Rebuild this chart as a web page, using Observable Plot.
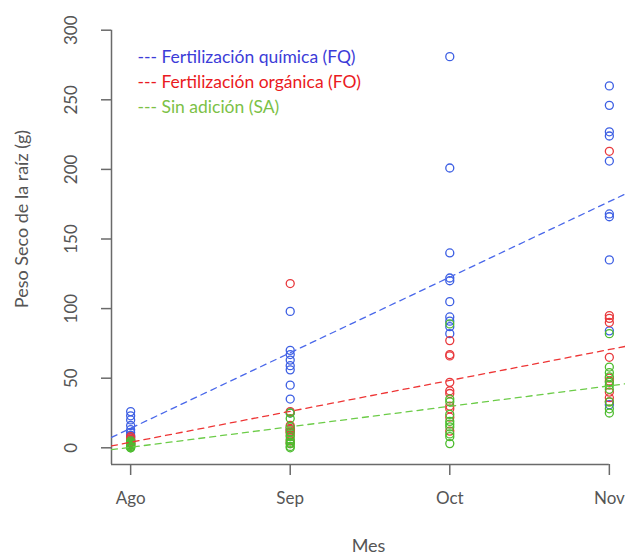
<!DOCTYPE html>
<html>
<head>
<meta charset="utf-8">
<script src="https://cdn.jsdelivr.net/npm/d3@7"></script>
<script src="https://cdn.jsdelivr.net/npm/@observablehq/plot@0.6"></script>
<style>
  html, body { margin: 0; padding: 0; background: #fff; }
  #chart svg { display: block; }
</style>
</head>
<body>
<div id="chart"></div>
<script>
// ---- data ----
const months = ["Ago", "Sep", "Oct", "Nov"];
const series = ["Fertilización química (FQ)", "Fertilización orgánica (FO)", "Sin adición (SA)"];
const seriesShort = ["FQ", "FO", "SA"];

// Peso seco de la raíz (g), per month (Ago, Sep, Oct, Nov)
const valuesFQ = [
  [26, 23, 20, 16, 13, 11, 9, 8, 6, 5],
  [98, 70, 67, 63, 59, 56, 45, 35, 25, 13],
  [281, 201, 140, 122, 120, 105, 94, 91, 87, 82],
  [260, 246, 227, 224, 206, 168, 166, 135, 84, 31]
];
const valuesFO = [
  [8, 7, 6, 5, 4, 4, 3, 3, 2, 2],
  [118, 26, 16, 14, 13, 12, 11, 9, 5, 3],
  [77, 67, 66, 47, 41, 39, 30, 28, 22, 12],
  [213, 95, 93, 90, 65, 50, 48, 40, 36, 33]
];
const valuesSA = [
  [5, 4, 3, 3, 2, 2, 1, 1, 0, 0],
  [25, 21, 15, 11, 8, 6, 4, 3, 1, 0],
  [89, 35, 33, 24, 19, 17, 15, 10, 8, 3],
  [82, 58, 54, 51, 47, 45, 42, 33, 28, 25]
];
// fitted regression lines: [value at Ago, slope per month]
const fitFQ = [14, 54.3];
const fitFO = [4, 22.2];
const fitSA = [0.4, 14.7];

const yTicks = [0, 50, 100, 150, 200, 250, 300];

// ---- styles ----
const pointColors = ["#3d5fe3", "#e8383c", "#4cbc2e"];
const lineColors = ["#4a68ea", "#ee3535", "#6ccc48"];
const legendColors = ["#3c3cd8", "#ea1a22", "#7cc146"];
const font = "Lato, 'Open Sans', sans-serif";

const xDomain = [0.88, 4.12];
const yDomain = [-12, 312];

const allValues = [valuesFQ, valuesFO, valuesSA];
const points = [];
allValues.forEach((byMonth, s) => {
  byMonth.forEach((vals, m) => {
    vals.forEach(v => points.push({mes: m + 1, valor: v, serie: seriesShort[s]}));
  });
});

const fits = [fitFQ, fitFO, fitSA];
const lines = [];
fits.forEach(([a, b], s) => {
  xDomain.forEach(x => lines.push({mes: x, valor: a + b * (x - 1), serie: seriesShort[s]}));
});

const legendRows = series.map((name, i) => ({label: "--- " + name, i}));

const chart = Plot.plot({
  width: 625,
  height: 555,
  marginLeft: 111,
  marginRight: 0,
  marginTop: 13,
  marginBottom: 91,
  style: {fontFamily: font, background: "#fff"},
  x: {type: "linear", domain: xDomain, range: [111, 628], axis: null},
  y: {type: "linear", domain: yDomain, axis: null},
  color: {domain: seriesShort, range: pointColors},
  marks: [
    // axis lines
    Plot.ruleX([xDomain[0]], {y1: yTicks[yTicks.length - 1], y2: yDomain[0], stroke: "#6a6a6a", strokeWidth: 1.5}),
    Plot.ruleY([yDomain[0]], {x1: xDomain[0], x2: months.length, stroke: "#6a6a6a", strokeWidth: 1.5}),
    // y ticks
    Plot.axisY(yTicks, {anchor: "left", tickSize: 10, tickFormat: () => "", label: null, stroke: "#6a6a6a", strokeWidth: 1.5}),
    Plot.text(yTicks, {y: d => d, text: d => String(d), frameAnchor: "left", dx: -40, rotate: -90, textAnchor: "middle", lineAnchor: "middle", fontSize: 17, fill: "#555"}),
    // x ticks
    Plot.axisX(months.map((_, i) => i + 1), {anchor: "bottom", tickSize: 11, tickPadding: 16, tickFormat: i => months[i - 1], fontSize: 17, fill: "#555", stroke: "#6a6a6a", strokeWidth: 1.5, label: null}),
    // axis titles
    Plot.text(["Mes"], {frameAnchor: "bottom", dy: 82, text: d => d, fontSize: 18, fill: "#555", lineAnchor: "middle"}),
    Plot.text(["Peso Seco de la raíz (g)"], {frameAnchor: "left", dx: -89, dy: -20, rotate: -90, text: d => d, textAnchor: "middle", lineAnchor: "middle", fontSize: 18, fill: "#555"}),
    // points
    Plot.dot(points, {x: "mes", y: "valor", stroke: "serie", r: 4, strokeWidth: 1.3, fill: "none"}),
    // regression lines
    ...seriesShort.map((s, i) => Plot.line(lines.filter(d => d.serie === s), {x: "mes", y: "valor", stroke: lineColors[i], strokeWidth: 1.3, strokeDasharray: "6,5", clip: true})),
    // legend
    ...legendRows.map(r => Plot.text([r], {frameAnchor: "top-left", dx: 26, dy: 44 + 25 * r.i, text: "label", textAnchor: "start", lineAnchor: "middle", fill: legendColors[r.i], fontSize: 17.5}))
  ]
});

document.getElementById("chart").appendChild(chart);
</script>
</body>
</html>
